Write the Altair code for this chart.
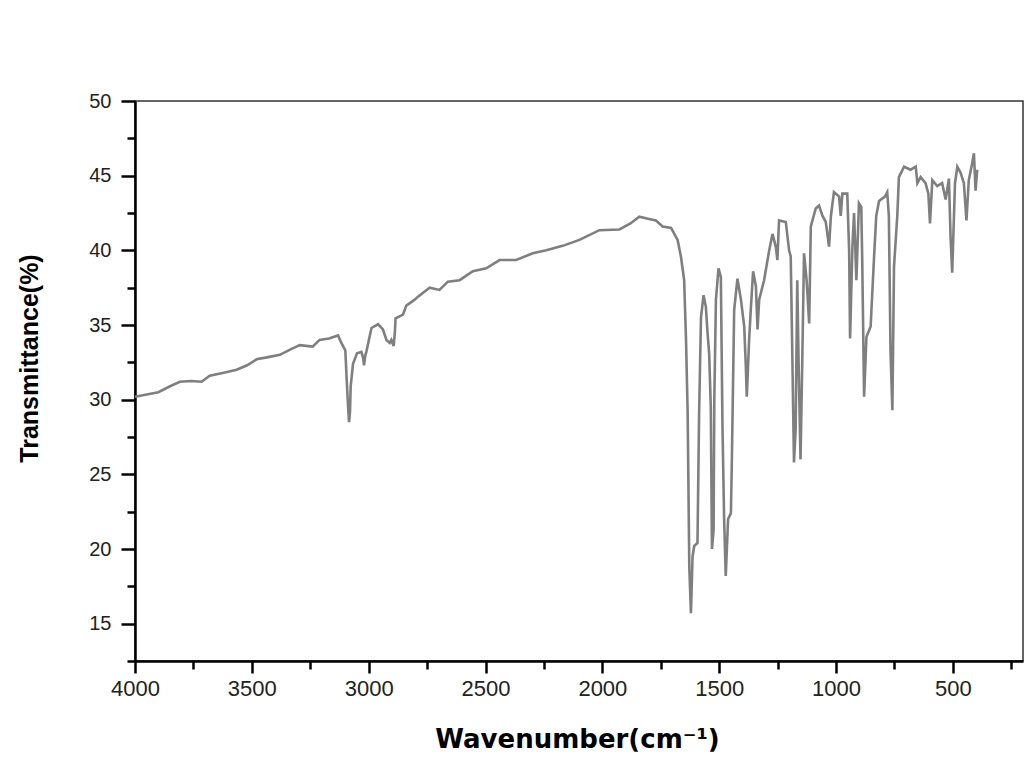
import altair as alt
import pandas as pd

wavenumber = [
    4000, 3950, 3900, 3850, 3808, 3760, 3715, 3680, 3620, 3565, 3520, 3480, 3430, 3380,
    3330, 3295, 3240, 3210, 3170, 3131, 3117, 3100, 3093, 3088, 3084, 3080, 3077, 3067,
    3050, 3031, 3024, 3020, 3014, 3010, 2995, 2988, 2960, 2939, 2924, 2910, 2903, 2893,
    2888, 2885, 2853, 2839, 2803, 2789, 2739, 2697, 2661, 2611, 2554, 2497, 2440, 2369,
    2298, 2240, 2170, 2098, 2013, 1927, 1880, 1842, 1800, 1771, 1742, 1706, 1678, 1664,
    1650, 1642, 1635, 1628, 1621, 1614, 1607, 1593, 1586, 1578, 1567, 1557, 1550, 1543,
    1536, 1531, 1524, 1521, 1514, 1503, 1493, 1486, 1479, 1472, 1462, 1450, 1446, 1436,
    1422, 1407, 1393, 1386, 1382, 1372, 1365, 1355, 1343, 1336, 1329, 1308, 1286, 1272,
    1258, 1251, 1244, 1215, 1201, 1194, 1187, 1180, 1173, 1166, 1160, 1152, 1145, 1137,
    1126, 1115, 1108, 1087, 1073, 1058, 1044, 1030, 1022, 1009, 987, 980, 973, 952,
    944, 940, 930, 923, 913, 902, 892, 888, 880, 870, 852, 838, 828, 816,
    791, 781, 774, 767, 759, 752, 738, 731, 709, 681, 659, 652, 638, 617,
    605, 598, 588, 567, 546, 531, 517, 510, 503, 491, 481, 467, 453, 442,
    432, 418, 410, 403, 396,
]
transmittance = [
    30.2, 30.35, 30.5, 30.9, 31.2, 31.25, 31.2, 31.6, 31.8, 32.0, 32.3, 32.7, 32.85, 33.0,
    33.4, 33.65, 33.55, 34.0, 34.1, 34.3, 33.8, 33.3, 31.0, 29.5, 28.5, 29.2, 30.9, 32.4,
    33.1, 33.2, 32.8, 32.3, 33.0, 33.2, 34.3, 34.8, 35.05, 34.7, 34.0, 33.8, 34.0, 33.6,
    34.5, 35.45, 35.7, 36.3, 36.7, 36.9, 37.5, 37.35, 37.9, 38.0, 38.6, 38.8, 39.35, 39.35,
    39.8, 40.0, 40.3, 40.7, 41.35, 41.4, 41.8, 42.25, 42.1, 42.0, 41.6, 41.5, 40.7, 39.6,
    38.0, 34.0, 29.1, 18.8, 15.7, 19.5, 20.2, 20.4, 29.1, 35.5, 37.0, 36.2, 34.5, 33.1,
    29.5, 20.0, 21.3, 30.0, 36.7, 38.8, 38.2, 28.2, 22.0, 18.2, 22.0, 22.4, 25.8, 36.0,
    38.1, 36.7, 34.9, 32.2, 30.2, 34.0, 36.0, 38.6, 37.6, 34.7, 36.7, 38.0, 40.0, 41.1,
    40.25, 39.35, 42.0, 41.9, 40.0, 39.6, 32.9, 25.8, 28.0, 38.0, 32.2, 26.0, 32.2, 39.8,
    38.0, 35.1, 41.6, 42.8, 43.0, 42.3, 41.9, 40.25, 42.3, 43.9, 43.6, 42.3, 43.8, 43.8,
    40.0, 34.1, 40.25, 42.5, 38.0, 43.15, 42.9, 39.35, 30.2, 34.2, 34.9, 39.35, 42.3, 43.3,
    43.6, 43.9, 42.3, 33.3, 29.3, 38.9, 42.3, 44.9, 45.6, 45.4, 45.6, 44.5, 44.9, 44.5,
    43.8, 41.8, 44.7, 44.3, 44.5, 43.4, 44.8, 40.9, 38.5, 44.5, 45.6, 45.2, 44.5, 42.0,
    44.7, 45.8, 46.5, 44.0, 45.4,
]

x_major = [4000, 3500, 3000, 2500, 2000, 1500, 1000, 500]
x_minor = [3750, 3250, 2750, 2250, 1750, 1250, 750, 250]
y_major = [15, 20, 25, 30, 35, 40, 45, 50]
y_minor = [12.5, 17.5, 22.5, 27.5, 32.5, 37.5, 42.5, 47.5]

df = pd.DataFrame({"wn": wavenumber, "t": transmittance})

xscale = alt.Scale(domain=[200, 4000], reverse=True, nice=False, zero=False)
yscale = alt.Scale(domain=[12.5, 50], nice=False, zero=False)

common_axis = dict(grid=False, domainColor="black", tickColor="black", labelColor="#222222",
                   labelFlush=False)

main = alt.Chart(df).mark_line(color="#7f7f7f", strokeWidth=2.6, strokeJoin="miter").encode(
    x=alt.X("wn:Q", scale=xscale, axis=alt.Axis(
        orient="bottom", values=x_major, format="d", tickSize=12, tickWidth=2.5,
        domainWidth=2.5, labelFont="Liberation Sans", labelFontSize=22, labelPadding=5,
        title="Wavenumber(cm⁻¹)", titleFont="DejaVu Sans", titleFontWeight="bold",
        titleFontSize=26, titleColor="black", titleBaseline="alphabetic",
        titleX=442, titleY=86, titleAnchor="middle", titleAlign="center", **common_axis)),
    y=alt.Y("t:Q", scale=yscale, axis=alt.Axis(
        orient="left", values=y_major, tickSize=14, tickWidth=2.5, domainWidth=2.5,
        labelFont="Liberation Sans", labelFontSize=20, labelPadding=10,
        title="Transmittance(%)", titleFont="Liberation Sans", titleFontWeight="bold",
        titleFontSize=25, titleColor="black", titleX=-93, titleY=257, titleAngle=-90,
        titleBaseline="bottom", titleAlign="center", **common_axis)),
    order=alt.Order("idx:Q"),
).transform_window(idx="row_number()")

minor = alt.Chart(df).mark_line(opacity=0).encode(
    x=alt.X("wn:Q", scale=xscale, axis=alt.Axis(
        orient="bottom", values=x_minor, tickSize=8, tickWidth=2.5, labels=False,
        domain=False, title=None, grid=False, tickColor="black")),
    y=alt.Y("t:Q", scale=yscale, axis=alt.Axis(
        orient="left", values=y_minor, tickSize=8, tickWidth=2.5, labels=False,
        domain=False, title=None, grid=False, tickColor="black")),
)

chart = alt.layer(main, minor).resolve_axis(x="independent", y="independent").properties(
    width=888, height=560,
    autosize=alt.AutoSizeParams(type="none"),
    padding={"left": 135, "top": 101, "right": 5, "bottom": 96},
    background="white",
).configure_view(stroke="#333333", strokeWidth=1.5)

chart.save("out.html", embed_options={"renderer": "svg", "actions": False})
